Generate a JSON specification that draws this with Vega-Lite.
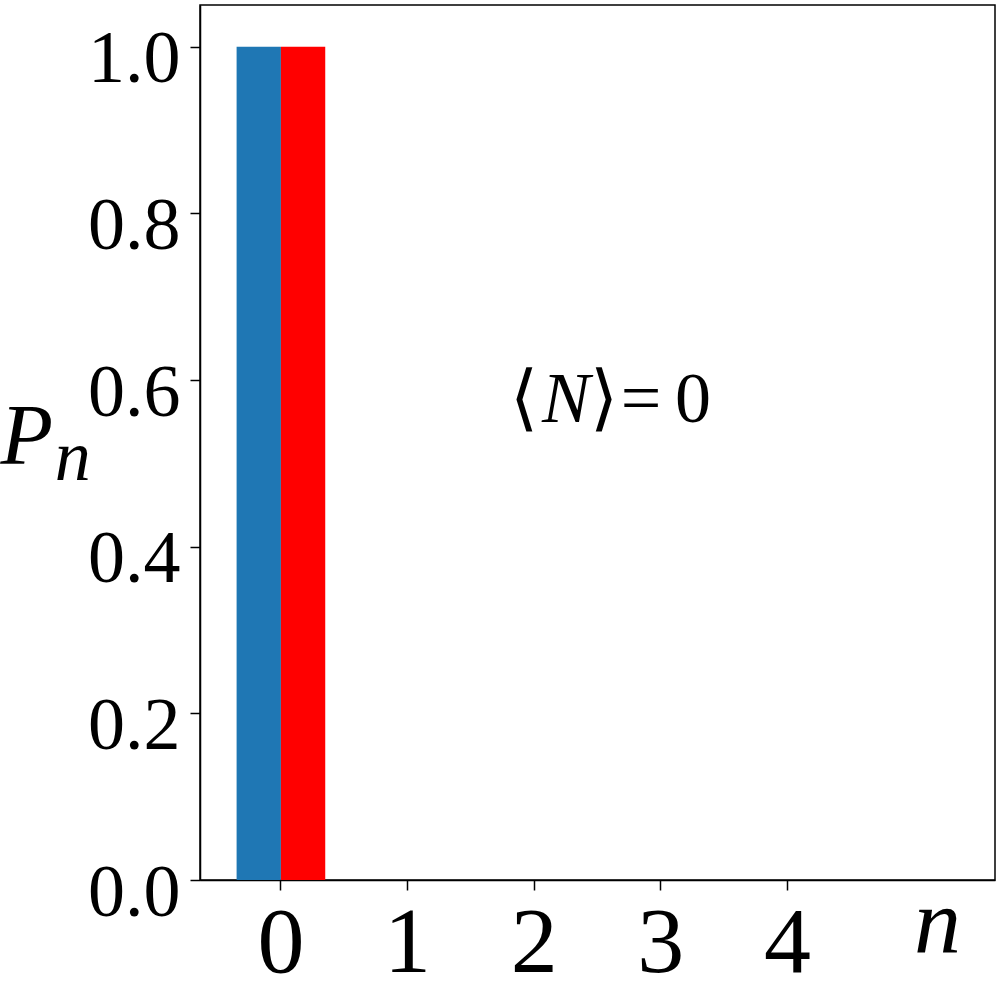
{
  "$schema": "https://vega.github.io/schema/vega-lite/v6.json",
  "width": 795,
  "height": 875,
  "autosize": "none",
  "padding": {"left": 200, "top": 5, "right": 5, "bottom": 120},
  "background": "white",
  "config": {
    "view": {"stroke": "black", "strokeWidth": 1.5},
    "font": "Liberation Serif",
    "axis": {"labelFont": "Liberation Serif", "titleFont": "Liberation Serif", "domainColor": "black", "tickColor": "black", "labelColor": "black", "titleColor": "black", "grid": false, "domainWidth": 1.5, "tickWidth": 1.5}
  },
  "layer": [
    {
      "data": {"values": [
        {"n": 0, "series": "Poisson", "P": 1.0},
        {"n": 0, "series": "Simulation", "P": 1.0},
        {"n": 1, "series": "Poisson", "P": 0.0},
        {"n": 1, "series": "Simulation", "P": 0.0},
        {"n": 2, "series": "Poisson", "P": 0.0},
        {"n": 2, "series": "Simulation", "P": 0.0},
        {"n": 3, "series": "Poisson", "P": 0.0},
        {"n": 3, "series": "Simulation", "P": 0.0},
        {"n": 4, "series": "Poisson", "P": 0.0},
        {"n": 4, "series": "Simulation", "P": 0.0}
      ]},
      "mark": {"type": "bar"},
      "encoding": {
        "x": {
          "field": "n", "type": "ordinal",
          "scale": {"domain": [0, 1, 2, 3, 4, 5], "paddingInner": 0, "paddingOuter": 0.139},
          "axis": {
            "values": [0, 1, 2, 3, 4], "labelAngle": 0, "labelFontSize": 94, "tickSize": 10,
            "labelBaseline": "alphabetic", "labelPadding": 81,
            "title": "n", "titleFontStyle": "italic", "titleFontWeight": "normal", "titleFontSize": 94,
            "titleAlign": "center", "titleBaseline": "alphabetic", "titleX": 737, "titleY": 72
          }
        },
        "xOffset": {"field": "series", "scale": {"domain": ["Poisson", "Simulation"], "paddingInner": 0, "paddingOuter": 0.4286}},
        "y": {
          "field": "P", "type": "quantitative",
          "scale": {"domain": [0, 1.05], "nice": false},
          "axis": {
            "values": [0, 0.2, 0.4, 0.6, 0.8, 1.0], "format": ".1f", "labelFontSize": 74, "tickSize": 10, "labelPadding": 10,
            "labelBaseline": "alphabetic", "labelOffset": 35,
            "title": "P", "titleFontStyle": "italic", "titleFontWeight": "normal", "titleFontSize": 86, "titleAngle": 0,
            "titleAlign": "left", "titleBaseline": "alphabetic", "titleX": -200, "titleY": 458
          }
        },
        "color": {"field": "series", "scale": {"domain": ["Poisson", "Simulation"], "range": ["#1f77b4", "#ff0000"]}, "legend": null}
      }
    },
    {
      "data": {"values": [{"x": -1.785, "y": 0.48, "label": "n"}]},
      "mark": {"type": "text", "align": "left", "baseline": "alphabetic", "fontSize": 72, "fontStyle": "italic", "color": "black"},
      "encoding": {
        "x": {"field": "x", "type": "quantitative", "scale": {"domain": [-0.64, 5.63], "nice": false, "zero": false}, "axis": null},
        "y": {"field": "y", "type": "quantitative"},
        "text": {"field": "label"}
      }
    },
    {
      "data": {"values": [{"x": 2.246, "y": 0.55, "label": "⟨"}]},
      "mark": {"type": "text", "align": "center", "baseline": "alphabetic", "dx": -42, "fontSize": 72, "color": "black"},
      "encoding": {
        "x": {"field": "x", "type": "quantitative", "scale": {"domain": [-0.64, 5.63], "nice": false, "zero": false}, "axis": null},
        "y": {"field": "y", "type": "quantitative"},
        "text": {"field": "label"}
      }
    },
    {
      "data": {"values": [{"x": 2.246, "y": 0.55, "label": "N"}]},
      "mark": {"type": "text", "align": "center", "baseline": "alphabetic", "fontSize": 72, "fontStyle": "italic", "color": "black"},
      "encoding": {
        "x": {"field": "x", "type": "quantitative", "scale": {"domain": [-0.64, 5.63], "nice": false, "zero": false}, "axis": null},
        "y": {"field": "y", "type": "quantitative"},
        "text": {"field": "label"}
      }
    },
    {
      "data": {"values": [{"x": 2.246, "y": 0.55, "label": "⟩"}]},
      "mark": {"type": "text", "align": "center", "baseline": "alphabetic", "dx": 38, "fontSize": 72, "color": "black"},
      "encoding": {
        "x": {"field": "x", "type": "quantitative", "scale": {"domain": [-0.64, 5.63], "nice": false, "zero": false}, "axis": null},
        "y": {"field": "y", "type": "quantitative"},
        "text": {"field": "label"}
      }
    },
    {
      "data": {"values": [{"x": 2.246, "y": 0.55, "label": "="}]},
      "mark": {"type": "text", "align": "center", "baseline": "alphabetic", "dx": 75, "fontSize": 72, "color": "black"},
      "encoding": {
        "x": {"field": "x", "type": "quantitative", "scale": {"domain": [-0.64, 5.63], "nice": false, "zero": false}, "axis": null},
        "y": {"field": "y", "type": "quantitative"},
        "text": {"field": "label"}
      }
    },
    {
      "data": {"values": [{"x": 2.246, "y": 0.55, "label": "0"}]},
      "mark": {"type": "text", "align": "center", "baseline": "alphabetic", "dx": 127, "fontSize": 72, "color": "black"},
      "encoding": {
        "x": {"field": "x", "type": "quantitative", "scale": {"domain": [-0.64, 5.63], "nice": false, "zero": false}, "axis": null},
        "y": {"field": "y", "type": "quantitative"},
        "text": {"field": "label"}
      }
    }
  ],
  "resolve": {"scale": {"x": "independent"}}
}
